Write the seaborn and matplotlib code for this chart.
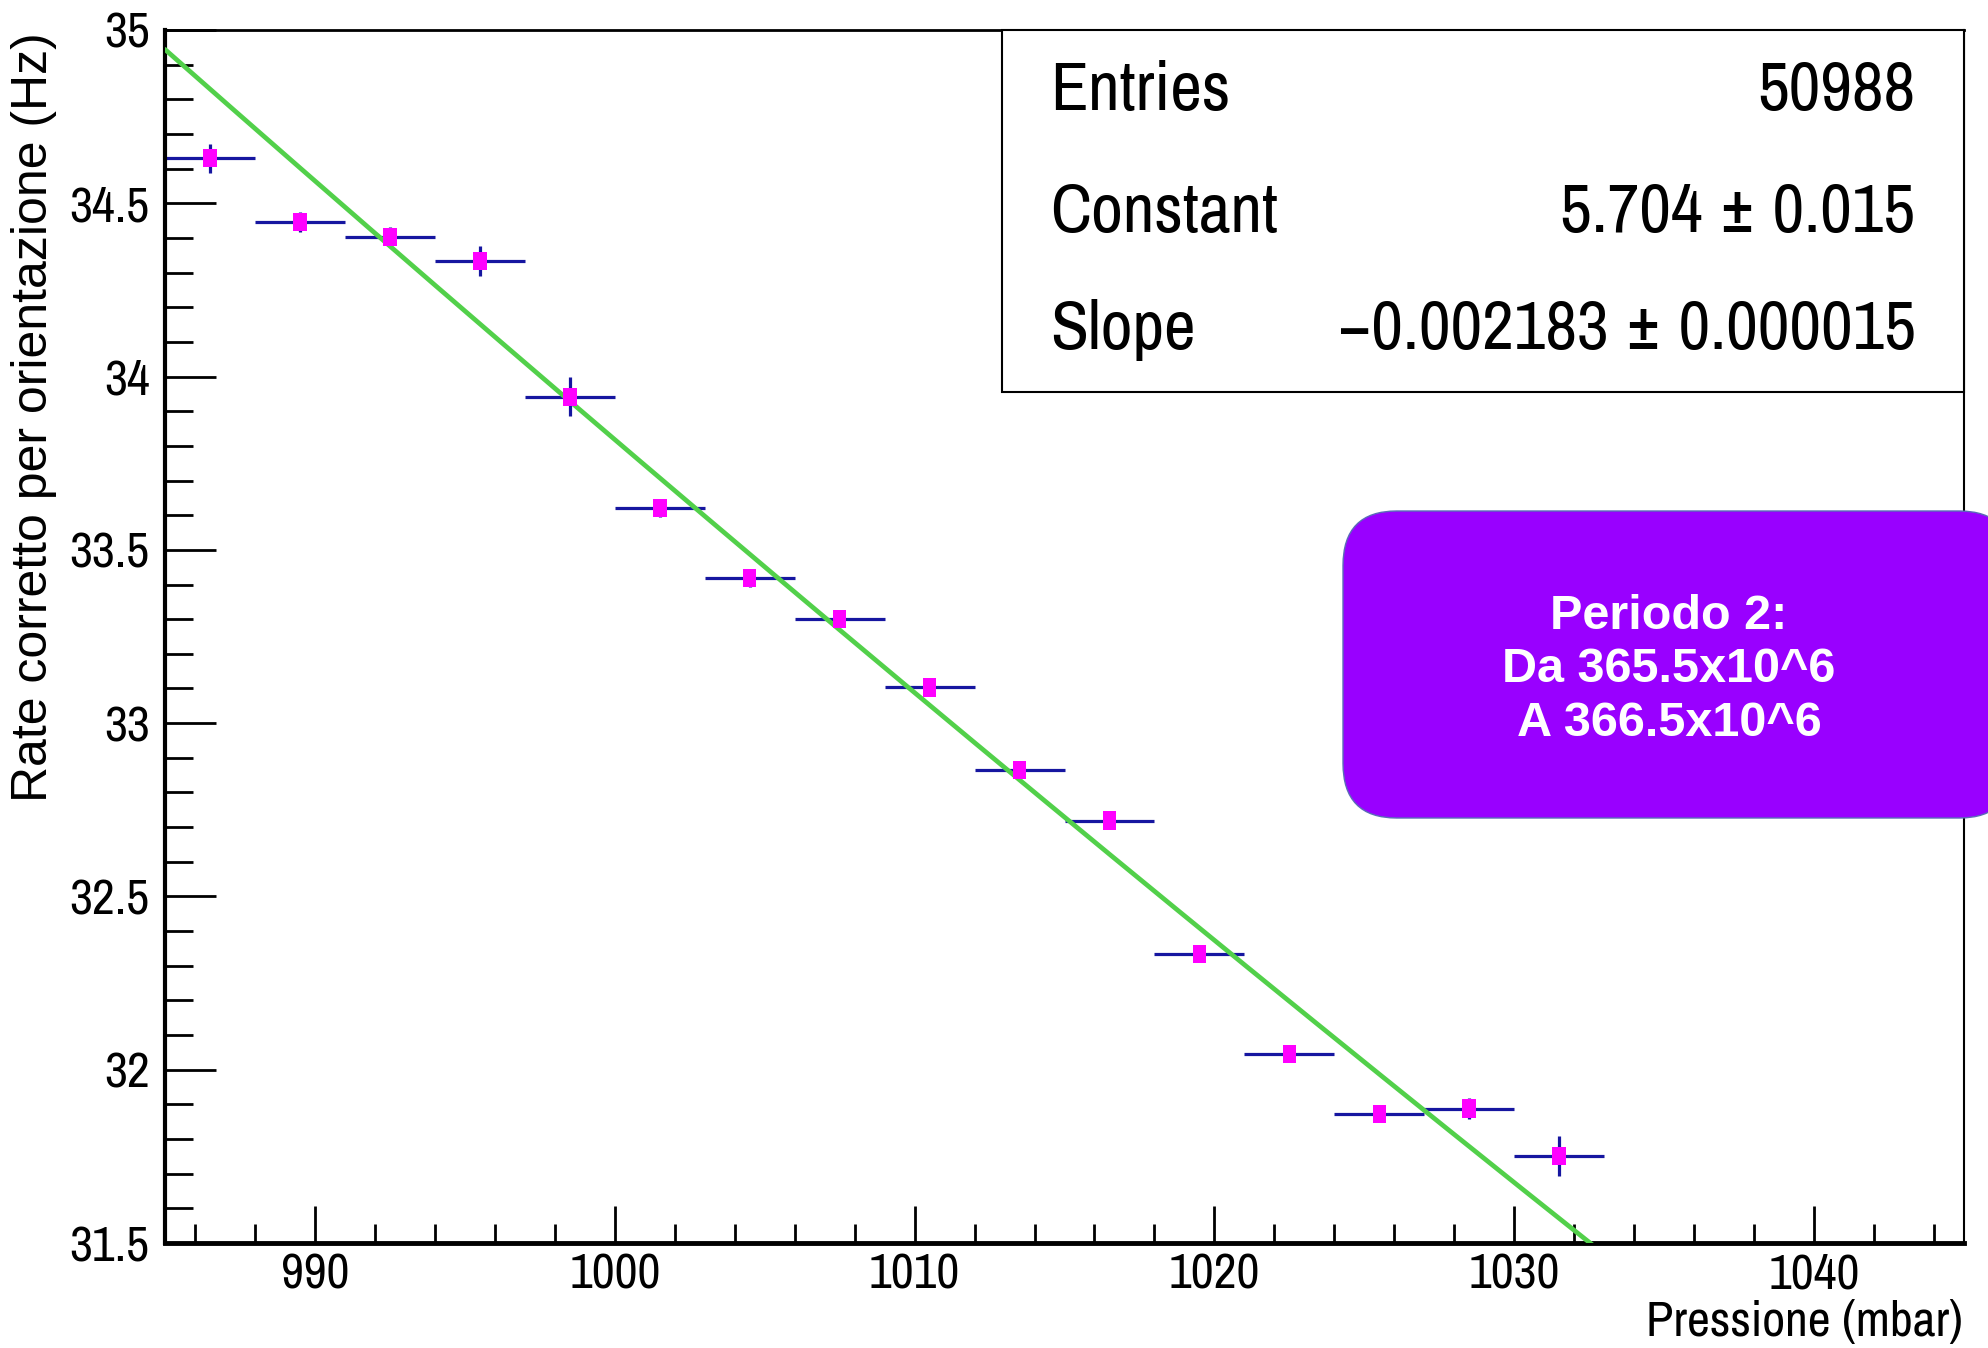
import numpy as np
import matplotlib
matplotlib.use("Agg")
import matplotlib.pyplot as plt
from matplotlib.patches import FancyBboxPatch, Rectangle
from matplotlib.ticker import MultipleLocator, FuncFormatter
import seaborn as sns

# bin centres (mbar) and corrected rate (Hz)
pressione = [986.5, 989.5, 992.5, 995.5, 998.5, 1001.5, 1004.5, 1007.5,
             1010.5, 1013.5, 1016.5, 1019.5, 1022.5, 1025.5, 1028.5, 1031.5]
rate = [34.63, 34.447, 34.403, 34.334, 33.942, 33.62, 33.418, 33.301,
        33.103, 32.865, 32.719, 32.334, 32.045, 31.873, 31.888, 31.752]
rate_err = [0.042, 0.029, 0.030, 0.043, 0.056, 0.024, 0.024, 0.024,
            0.022, 0.024, 0.024, 0.022, 0.022, 0.024, 0.031, 0.058]
bin_half = [1.5] * len(pressione)

# expo fit parameters shown in the stats box
fit_const = 5.704
fit_slope = -0.002183
stats_rows = [("Entries", "50988"),
              ("Constant", "5.704 \u00b1 0.015"),
              ("Slope", "\u22120.002183 \u00b1 0.000015")]
box_text = "Periodo 2:\nDa 365.5x10^6\nA 366.5x10^6"

sns.set_theme(style="white")
narrow = ["Archivo Narrow", "Liberation Sans", "DejaVu Sans"]
regular = ["Liberation Sans", "DejaVu Sans"]
plt.rcParams["font.family"] = narrow
plt.rcParams["text.color"] = "black"

W, H = 1988, 1348
fig = plt.figure(figsize=(W / 100, H / 100), dpi=100)
ax = fig.add_axes([165 / W, 105 / H, 1799 / W, 1213 / H])

ax.errorbar(pressione, rate, xerr=bin_half, yerr=rate_err, fmt="none",
            ecolor="#1616a0", elinewidth=2.3, capsize=0, zorder=2)

xs = np.linspace(985, 1045, 400)
sns.lineplot(x=xs, y=np.exp(fit_const + fit_slope * xs), ax=ax,
             color="#52d04a", linewidth=3.4, zorder=3)

rect_marker = [(-0.75, -1), (0.75, -1), (0.75, 1), (-0.75, 1)]
sns.scatterplot(x=pressione, y=rate, ax=ax, marker=rect_marker, s=170,
                color="#ff00ff", edgecolor="none", linewidth=0, zorder=4)

ax.set_xlim(985, 1045)
ax.set_ylim(31.5, 35)
ax.xaxis.set_major_locator(MultipleLocator(10))
ax.xaxis.set_minor_locator(MultipleLocator(2))
ax.yaxis.set_major_locator(MultipleLocator(0.5))
ax.yaxis.set_minor_locator(MultipleLocator(0.1))
ax.yaxis.set_major_formatter(FuncFormatter(lambda v, p: f"{v:g}"))

ax.tick_params(axis="both", which="both", direction="in", colors="black",
               left=True, bottom=True, top=False, right=False, width=2)
ax.tick_params(axis="y", which="major", length=37, labelsize=36, pad=11)
ax.tick_params(axis="y", which="minor", length=20)
ax.tick_params(axis="x", which="major", length=27, labelsize=36, pad=7)
ax.tick_params(axis="x", which="minor", length=14)
for lbl in ax.get_xticklabels() + ax.get_yticklabels():
    lbl.set_family(narrow)

for side, lw in [("left", 3), ("bottom", 3.5), ("top", 2), ("right", 1.5)]:
    ax.spines[side].set_visible(True)
    ax.spines[side].set_color("black")
    ax.spines[side].set_linewidth(lw)
ax.grid(False)

# stats box
ax.add_patch(Rectangle((0.465, 0.7016), 0.535, 0.2984, transform=ax.transAxes,
                       facecolor="white", edgecolor="black", linewidth=1.5,
                       zorder=5, clip_on=False))
for (name, val), yy in zip(stats_rows, [0.950, 0.849, 0.753]):
    ax.text(0.492, yy, name, transform=ax.transAxes, fontsize=50,
            ha="left", va="center", zorder=6, family=narrow)
    ax.text(0.973, yy, val, transform=ax.transAxes, fontsize=50,
            ha="right", va="center", zorder=6, family=narrow)

# axis titles
fig.text(34 / W, 1 - 32 / H, "Rate corretto per orientazione (Hz)",
         rotation=90, ha="center", va="top", fontsize=36, family=regular)
fig.text(1963 / W, 1 - 1322 / H, "Pressione (mbar)", ha="right",
         va="center", fontsize=36, family=narrow)

# purple annotation box
fig.patches.append(FancyBboxPatch((1343 / W, 1 - 818 / H), 670 / W, 307 / H,
                                  boxstyle="round,pad=0,rounding_size=0.027",
                                  mutation_aspect=1.5, transform=fig.transFigure,
                                  facecolor="#9900ff", edgecolor="#5a6cb8",
                                  linewidth=1, zorder=10, figure=fig))
fig.text(1669 / W, 1 - 670 / H, box_text, ha="center", va="center",
         fontsize=35, fontweight="bold", color="white", linespacing=1.25,
         family=regular, zorder=11)

fig.savefig("out.png", dpi=100)
